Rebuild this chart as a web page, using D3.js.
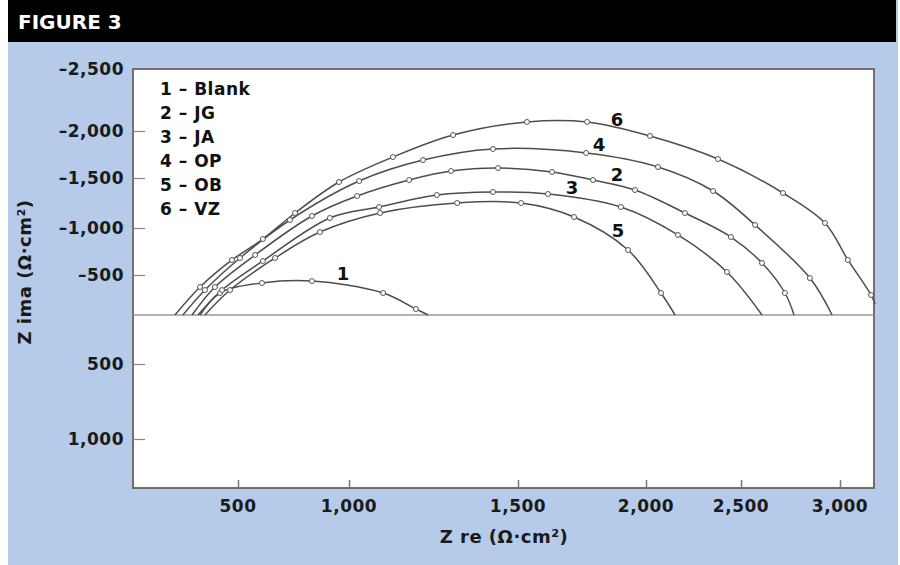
<!DOCTYPE html>
<html>
<head>
<meta charset="utf-8">
<script src="https://cdnjs.cloudflare.com/ajax/libs/d3/7.8.5/d3.min.js"></script>
<style>
  body { margin: 0; background: #fff; }
  text { font-family: "DejaVu Sans", "Liberation Sans", Arial, sans-serif; font-weight: bold; }
</style>
</head>
<body>
<div id="chart"></div>
<script>
// series names (legend)
var seriesNames = ["Blank", "JG", "JA", "OP", "OB", "VZ"];

// Z re / Z ima, one pair of arrays per curve
var blankRe = [329, 419, 608, 833, 1101, 1198, 1234];
var blankIm = [0, -275, -400, -425, -275, -75, 0];

var jgRe = [293, 396, 577, 833, 1024, 1178, 1302, 1441, 1633, 1793, 1957, 2205, 2447, 2606, 2722, 2768];
var jgIm = [0, -350, -713, -1120, -1320, -1480, -1574, -1606, -1564, -1480, -1380, -1150, -904, -628, -275, 0];

var jaRe = [320, 428, 612, 914, 1089, 1260, 1426, 1617, 1902, 2168, 2426, 2606];
var jaIm = [0, -312, -649, -1100, -1210, -1330, -1360, -1340, -1210, -926, -532, 0];

var opRe = [252, 351, 509, 734, 1030, 1219, 1426, 1766, 2063, 2353, 2571, 2848, 2960];
var opIm = [0, -312, -681, -1080, -1470, -1691, -1809, -1766, -1617, -1370, -1030, -462, 0];

var obRe = [351, 464, 667, 869, 1092, 1320, 1512, 1719, 1930, 2079, 2153];
var obIm = [0, -312, -681, -957, -1150, -1250, -1250, -1110, -766, -275, 0];

var vzRe = [216, 329, 473, 612, 757, 955, 1130, 1308, 1535, 1770, 2021, 2379, 2712, 2924, 3040, 3157, 3177];
var vzIm = [0, -350, -660, -883, -1150, -1460, -1723, -1957, -2073, -2073, -1947, -1702, -1350, -1050, -660, -250, -137];

// curve number labels, in data units
var labelRe = [973, 1887, 1711, 1816, 1891, 1887];
var labelIm = [-521, -1543, -1410, -1862, -979, -2097];

// tick values
var xTicks = [500, 1000, 1500, 2000, 2500, 3000];
var yTicks = [-2500, -2000, -1500, -1000, -500, 0, 500, 1000];

var svgWidth = 900, svgHeight = 565;

var svg = d3.select("#chart")
  .append("svg")
  .attr("width", svgWidth)
  .attr("height", svgHeight);

// background + header
svg.append("rect").attr("x", 8).attr("y", 0).attr("width", 890).attr("height", svgHeight).attr("fill", "#b6cbe9");
svg.append("rect").attr("x", 8).attr("y", 0).attr("width", 888).attr("height", 42).attr("fill", "#000");
svg.append("text")
  .attr("x", 18).attr("y", 29)
  .attr("fill", "#fff")
  .style("font-size", "20px")
  .text("FIGURE 3");

// plot frame
var plotLeft = 133, plotRight = 874, plotTop = 69, plotBottom = 488;

svg.append("rect")
  .attr("x", plotLeft).attr("y", plotTop)
  .attr("width", plotRight - plotLeft).attr("height", plotBottom - plotTop)
  .attr("fill", "#fff")
  .attr("stroke", "#6f6f6f")
  .attr("stroke-width", 2);

// the printed axes are not evenly spaced, so piecewise scales follow the ticks
var xScale = d3.scaleLinear()
  .domain(xTicks)
  .range([238, 349, 518, 646, 741, 840]);

var yScale = d3.scaleLinear()
  .domain(yTicks)
  .range([plotTop, 131, 178, 228, 275, 315, 364, 439]);

// zero line
svg.append("line")
  .attr("x1", plotLeft).attr("x2", plotRight)
  .attr("y1", yScale(0)).attr("y2", yScale(0))
  .attr("stroke", "#9a9a9a")
  .attr("stroke-width", 1.5);

// axes
var xAxis = d3.axisTop(xScale).tickValues(xTicks).tickSize(8).tickFormat("");
svg.append("g")
  .attr("transform", `translate(0, ${plotBottom})`)
  .call(xAxis)
  .call(g => g.select(".domain").remove())
  .selectAll("line").attr("stroke", "#777").attr("stroke-width", 1.5);

var yAxis = d3.axisRight(yScale).tickValues(yTicks.filter(d => d !== 0 && d !== -2500)).tickSize(12).tickFormat("");
svg.append("g")
  .attr("transform", `translate(${plotLeft}, 0)`)
  .call(yAxis)
  .call(g => g.select(".domain").remove())
  .selectAll("line").attr("stroke", "#888").attr("stroke-width", 1.2);

var fmt = d3.format(",");

svg.selectAll(".xlab")
  .data(xTicks)
  .enter()
  .append("text")
  .attr("x", d => xScale(d))
  .attr("y", 512)
  .attr("text-anchor", "middle")
  .style("font-size", "17px")
  .style("letter-spacing", "0.5px")
  .attr("fill", "#1a1a1a")
  .text(d => fmt(d));

svg.selectAll(".ylab")
  .data(yTicks.filter(d => d !== 0))
  .enter()
  .append("text")
  .attr("x", 124)
  .attr("y", d => yScale(d) + 6)
  .attr("text-anchor", "end")
  .style("font-size", "17px")
  .style("letter-spacing", "0.5px")
  .attr("fill", "#1a1a1a")
  .text(d => (d < 0 ? "\u2013" : "") + fmt(Math.abs(d)));

// axis titles
svg.append("text")
  .attr("x", 504).attr("y", 543)
  .attr("text-anchor", "middle")
  .style("font-size", "18px")
  .style("letter-spacing", "0.5px")
  .attr("fill", "#1a1a1a")
  .text("Z re (\u03A9\u00B7cm\u00B2)");

svg.append("text")
  .attr("transform", "rotate(-90)")
  .attr("x", -272).attr("y", 31)
  .attr("text-anchor", "middle")
  .style("font-size", "18px")
  .style("letter-spacing", "0.5px")
  .attr("fill", "#1a1a1a")
  .text("Z ima (\u03A9\u00B7cm\u00B2)");

// curves
var allRe = [blankRe, jgRe, jaRe, opRe, obRe, vzRe];
var allIm = [blankIm, jgIm, jaIm, opIm, obIm, vzIm];

var series = seriesNames.map(function (name, i) {
  return {
    name: name,
    points: allRe[i].map((re, j) => ({ re: re, im: allIm[i][j] }))
  };
});

var line = d3.line()
  .x(d => xScale(d.re))
  .y(d => yScale(d.im))
  .curve(d3.curveCatmullRom.alpha(0.5));

var plot = svg.append("g");

plot.selectAll(".curve")
  .data(series)
  .enter()
  .append("path")
  .attr("d", d => line(d.points))
  .attr("fill", "none")
  .attr("stroke", "#4d4d4d")
  .attr("stroke-width", 1.5);

// open circle markers (not on the end points)
series.forEach(function (s) {
  plot.selectAll(null)
    .data(s.points.slice(1, -1))
    .enter()
    .append("circle")
    .attr("cx", d => xScale(d.re))
    .attr("cy", d => yScale(d.im))
    .attr("r", 2.5)
    .attr("fill", "#fff")
    .attr("stroke", "#555")
    .attr("stroke-width", 1);
});

// curve numbers
plot.selectAll(".num")
  .data(seriesNames)
  .enter()
  .append("text")
  .attr("x", (d, i) => xScale(labelRe[i]))
  .attr("y", (d, i) => yScale(labelIm[i]) + 7)
  .attr("text-anchor", "middle")
  .style("font-size", "18px")
  .attr("fill", "#111")
  .text((d, i) => i + 1);

// legend
svg.selectAll(".legend")
  .data(seriesNames)
  .enter()
  .append("text")
  .attr("x", 160)
  .attr("y", (d, i) => 95 + i * 24)
  .style("font-size", "17px")
  .style("letter-spacing", "0.5px")
  .attr("fill", "#111")
  .text((d, i) => (i + 1) + " \u2013 " + d);
</script>
</body>
</html>
